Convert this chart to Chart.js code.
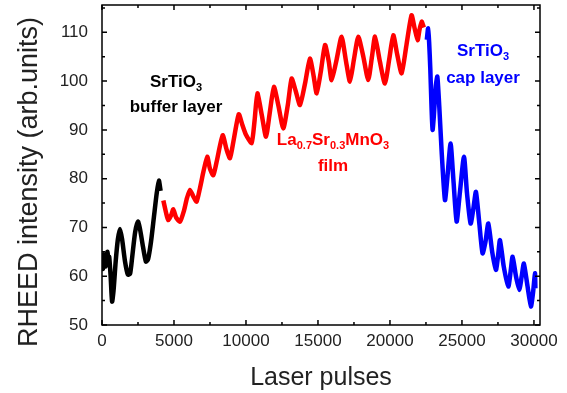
<!DOCTYPE html>
<html>
<head>
<meta charset="utf-8">
<script src="https://cdn.jsdelivr.net/npm/chart.js@4/dist/chart.umd.min.js"></script>
<style>
  html, body { margin: 0; padding: 0; background: #fff; }
</style>
</head>
<body>
<canvas id="rheedChart" width="567" height="393"></canvas>
<script>
// SrTiO3 buffer layer (black)
const bufferX = [0, 60, 120, 180, 250, 320, 380, 450, 500, 600, 700, 800, 950, 1100, 1250, 1400, 1600, 1800, 1950, 2100, 2300, 2500, 2650, 2850, 3050, 3200, 3400, 3600, 3800, 3950, 4070];
const bufferY = [63, 61.5, 64.5, 63, 62, 64, 65, 63.5, 64, 60, 54.8, 57, 63, 67.5, 69.7, 67.5, 63, 60.3, 60.5, 64, 69, 71.2, 69.5, 66, 63, 63.5, 67, 72, 77, 79.6, 77.5];

// La0.7Sr0.3MnO3 film (red)
const filmX = [4260, 4450, 4600, 4800, 4950, 5150, 5420, 5700, 5900, 6110, 6350, 6570, 6800, 7050, 7310, 7500, 7730, 8000, 8380, 8650,
               8890, 9150, 9500, 9750, 10000, 10390, 10600, 10790, 11100, 11390, 11650, 11940, 12250, 12590, 12900, 13170, 13450, 13750, 14100, 14440,
               14700, 14910, 15200, 15490, 15750, 15950, 16300, 16640, 16950, 17220, 17500, 17800, 18150, 18490, 18750, 18960, 19300, 19650, 19950, 20230,
               20500, 20810, 21150, 21500, 21700, 21920, 22050, 22200, 22350];
const filmY = [75.5, 73, 71.5, 72.5, 73.7, 72, 71.2, 73.5, 76, 77.7, 76.3, 75.3, 78, 81.5, 84.5, 82, 80.7, 84, 88.9, 86,
               84.2, 88, 93.2, 91, 89, 87.3, 92, 97.5, 93, 88.6, 93.5, 98.8, 95, 90.3, 95, 100.5, 98, 95.1, 99.5, 104.6,
               101, 97.5, 102, 107.4, 104, 100.2, 104.5, 109.1, 104, 99.9, 104.5, 109.1, 105, 100.2, 105, 109.1, 104, 99.5, 104.5, 109.4,
               105.5, 101.6, 107.5, 113.5, 111, 108.4, 110.5, 112.2, 111];

// SrTiO3 cap layer (blue)
const capX = [22560, 22650, 22720, 22800, 22890, 22960, 23050, 23180, 23290, 23420, 23600, 23820, 23980, 24210, 24400, 24630, 24850, 25140, 25350, 25600,
              25800, 25970, 26200, 26430, 26630, 26830, 27100, 27360, 27500, 27640, 27900, 28220, 28380, 28520, 28750, 28980, 29150, 29300, 29550, 29790,
              29950, 30070, 30100];
const capY = [108.5, 110.8, 108, 102.6, 94.4, 90, 93, 99, 100.9, 95, 85, 75.6, 80, 87.2, 80, 71.2, 77, 84.5, 77, 70.8,
              74, 77.3, 71, 64.7, 67, 70.8, 65, 61.3, 64, 67.4, 62, 57.9, 61, 64, 60, 57.2, 60, 62.6, 58, 53.8,
              57, 60.6, 57.5];

const xTicks = [0, 5000, 10000, 15000, 20000, 25000, 30000];
const yTicks = [50, 60, 70, 80, 90, 100, 110];
const xMinor = [2500, 7500, 12500, 17500, 22500, 27500];
const yMinor = [55, 65, 75, 85, 95, 105, 115];

const FONT = "'Liberation Sans', Arial, sans-serif";

function pts(xs, ys) {
    return xs.map((x, i) => ({x: x, y: ys[i]}));
}

// text with subscripts: [text, isSub]
function drawRich(ctx, parts, cx, baseline, color) {
    const big = 'bold 17px ' + FONT, small = 'bold 11px ' + FONT;
    let w = 0;
    parts.forEach(p => { ctx.font = p[1] ? small : big; w += ctx.measureText(p[0]).width; });
    let x = cx - w / 2;
    ctx.fillStyle = color;
    ctx.textAlign = 'left';
    ctx.textBaseline = 'alphabetic';
    parts.forEach(p => {
        ctx.font = p[1] ? small : big;
        ctx.fillText(p[0], x, baseline + (p[1] ? 4 : 0));
        x += ctx.measureText(p[0]).width;
    });
}

const framePlugin = {
    id: 'frame',
    afterDraw(chart) {
        const {ctx, chartArea: a, scales: {x, y}} = chart;
        ctx.save();
        ctx.strokeStyle = '#000';
        ctx.lineWidth = 1.5;
        ctx.strokeRect(a.left, a.top, a.right - a.left, a.bottom - a.top);
        ctx.beginPath();
        const tickX = (v, len) => {
            const p = x.getPixelForValue(v);
            ctx.moveTo(p, a.bottom); ctx.lineTo(p, a.bottom - len);
            ctx.moveTo(p, a.top); ctx.lineTo(p, a.top + len);
        };
        const tickY = (v, len) => {
            const p = y.getPixelForValue(v);
            ctx.moveTo(a.left, p); ctx.lineTo(a.left + len, p);
            ctx.moveTo(a.right, p); ctx.lineTo(a.right - len, p);
        };
        xTicks.forEach(v => tickX(v, 5));
        xMinor.forEach(v => tickX(v, 3));
        yTicks.forEach(v => tickY(v, 5));
        yMinor.forEach(v => tickY(v, 3));
        ctx.stroke();

        // y axis title
        ctx.save();
        ctx.translate(30, 182);
        ctx.rotate(-Math.PI / 2);
        ctx.font = '27px ' + FONT;
        ctx.fillStyle = '#222';
        ctx.textAlign = 'center';
        ctx.textBaseline = 'middle';
        ctx.fillText('RHEED intensity (arb.units)', 0, 0);
        ctx.restore();

        // layer labels
        drawRich(ctx, [['SrTiO', false], ['3', true]], 176, 87, '#000');
        drawRich(ctx, [['buffer layer', false]], 176, 112, '#000');
        drawRich(ctx, [['La', false], ['0.7', true], ['Sr', false], ['0.3', true], ['MnO', false], ['3', true]], 333, 145, '#ff0000');
        drawRich(ctx, [['film', false]], 333, 171, '#ff0000');
        drawRich(ctx, [['SrTiO', false], ['3', true]], 483, 56, '#0000ff');
        drawRich(ctx, [['cap layer', false]], 483, 83, '#0000ff');
        ctx.restore();
    }
};

const lineStyle = {showLine: true, pointRadius: 0, borderWidth: 4.5, tension: 0.2, fill: false, borderJoinStyle: 'round'};

new Chart(document.getElementById('rheedChart'), {
    type: 'scatter',
    data: {
        datasets: [
            Object.assign({label: 'buffer', data: pts(bufferX, bufferY), borderColor: '#000000'}, lineStyle),
            Object.assign({label: 'film', data: pts(filmX, filmY), borderColor: '#ff0000'}, lineStyle),
            Object.assign({label: 'cap', data: pts(capX, capY), borderColor: '#0000ff'}, lineStyle)
        ]
    },
    options: {
        responsive: false,
        animation: false,
        layout: {padding: {top: 5, right: 27, left: 0, bottom: 0}},
        plugins: {legend: {display: false}, tooltip: {enabled: false}},
        scales: {
            x: {
                type: 'linear', min: 0, max: 30420,
                afterFit: s => { s.height = 68; s.paddingLeft = 0; s.paddingRight = 0; },
                afterBuildTicks: s => { s.ticks = xTicks.map(v => ({value: v})); },
                grid: {display: false, drawTicks: false},
                border: {display: false},
                ticks: {padding: 6, color: '#222', font: {family: FONT, size: 17}, maxRotation: 0, autoSkip: false, callback: v => String(v)},
                title: {display: true, text: 'Laser pulses', color: '#222', font: {family: FONT, size: 25}, padding: 0}
            },
            y: {
                min: 50, max: 115.6,
                afterFit: s => { s.width = 102; s.paddingTop = 0; s.paddingBottom = 0; },
                afterBuildTicks: s => { s.ticks = yTicks.map(v => ({value: v})); },
                grid: {display: false, drawTicks: false},
                border: {display: false},
                ticks: {padding: 14, color: '#222', font: {family: FONT, size: 17}, callback: v => String(v)}
            }
        }
    },
    plugins: [framePlugin]
});
</script>
</body>
</html>
